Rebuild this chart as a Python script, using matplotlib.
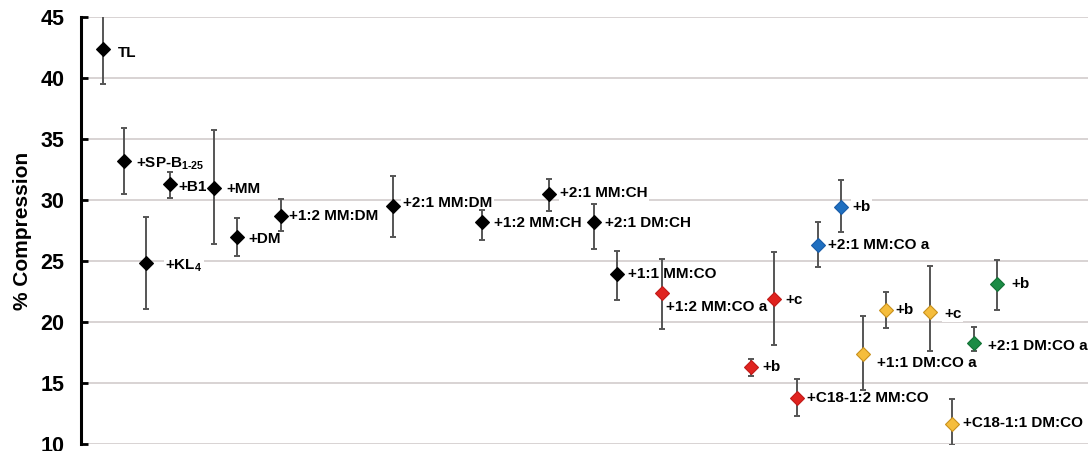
import matplotlib
matplotlib.use("Agg")
import matplotlib.pyplot as plt

plt.rcParams['font.family'] = ['Liberation Sans', 'DejaVu Sans']
plt.rcParams['font.weight'] = 'bold'
plt.rcParams['mathtext.fontset'] = 'custom'
plt.rcParams['mathtext.rm'] = 'Liberation Sans:bold'
plt.rcParams['mathtext.bf'] = 'Liberation Sans:bold'
plt.rcParams['mathtext.default'] = 'bf'

# datos
labels = ['TL', r'+SP-B$_{1\text{-}25}$', '+KL$_4$', '+B1', '+MM', '+DM',
          '+1:2 MM:DM', '+2:1 MM:DM', '+1:2 MM:CH', '+2:1 MM:CH', '+2:1 DM:CH',
          '+1:1 MM:CO', '+1:2 MM:CO a', '+b', '+c', '+C18-1:2 MM:CO',
          '+2:1 MM:CO a', '+b', '+1:1 DM:CO a', '+b', '+c', '+C18-1:1 DM:CO',
          '+2:1 DM:CO a', '+b']
xpos = [22, 43, 65, 89, 133, 156, 200, 312, 401, 468, 513, 536, 581,
        670, 693, 716, 737, 760, 782, 805, 849, 871, 893, 916]
compression = [42.4, 33.2, 24.8, 31.3, 31.0, 27.0, 28.7, 29.5, 28.2, 30.5, 28.2,
               23.9, 22.4, 16.3, 21.9, 13.8, 26.3, 29.4, 17.4, 21.0, 20.8, 11.6,
               18.3, 23.1]
err_hi = [45.2, 35.9, 28.6, 32.3, 35.7, 28.5, 30.1, 32.0, 29.2, 31.7, 29.7,
          25.8, 25.2, 17.0, 25.7, 15.3, 28.2, 31.6, 20.5, 22.5, 24.6, 13.7,
          19.6, 25.1]
err_lo = [39.5, 30.5, 21.1, 30.2, 26.4, 25.4, 27.5, 27.0, 26.7, 29.1, 26.0,
          21.8, 19.4, 15.6, 18.1, 12.3, 24.5, 27.4, 14.4, 19.5, 17.6, 9.9,
          17.6, 21.0]
groups = ['k'] * 12 + ['r'] * 4 + ['b'] * 2 + ['y'] * 4 + ['g'] * 2

colores = {'k': ('#000000', '#000000'), 'r': ('#e0231f', '#c01a18'),
           'b': ('#1f6fc0', '#185ca8'), 'y': ('#f5bd3c', '#c8901c'),
           'g': ('#1b8c45', '#137236')}

# desplazamiento de las etiquetas (puntos)
offsets = [(11, -3), (9, -2), (14, -2), (6, -2), (9, -1), (8, -2),
           (6, 0), (7, 2), (9, -1), (8, 1), (8, -1),
           (8, 0), (3, -10), (8, 0), (8, -1), (7, 0),
           (7, 0), (8, 0), (10, -7), (7, 0), (10, -1), (8, 1),
           (10, -2), (10, 0)]

fig = plt.figure(figsize=(10.88, 4.51), dpi=100)
ax = fig.add_axes([81 / 1088, 7 / 451, 1 - 81 / 1088, 427 / 451])

for x, y, hi, lo, g in zip(xpos, compression, err_hi, err_lo, groups):
    face, edge = colores[g]
    ax.errorbar(x, y, yerr=[[y - lo], [hi - y]], fmt='none', ecolor='#555555',
                elinewidth=1.4, capsize=2.5, capthick=1.4, zorder=2)
    ax.plot(x, y, marker='D', markersize=7.5, markerfacecolor=face,
            markeredgecolor=edge, markeredgewidth=0.8, linestyle='none', zorder=3)

for x, y, lab, (dx, dy) in zip(xpos, compression, labels, offsets):
    ax.annotate(lab, (x, y), xytext=(dx, dy), textcoords='offset points',
                ha='left', va='center', fontsize=11, fontweight='bold',
                bbox=dict(boxstyle='square,pad=0.1', fc='white', ec='none'),
                zorder=1.5)

ax.set_xlim(0, 1007)
ax.set_ylim(10, 45)
ax.set_yticks(range(10, 46, 5))
ax.set_xticks([])
ax.yaxis.grid(True, color='#d2cccc', linewidth=1.2)
ax.set_axisbelow(True)
for s in ['top', 'right', 'bottom']:
    ax.spines[s].set_visible(False)
ax.spines['left'].set_linewidth(2.2)
ax.tick_params(axis='y', direction='in', length=5, width=2, labelsize=15.5, pad=12)
for t in ax.get_yticklabels():
    t.set_fontweight('bold')
ax.set_ylabel('% Compression', fontsize=15, fontweight='bold', labelpad=6)

fig.savefig('out.png', dpi=100)
